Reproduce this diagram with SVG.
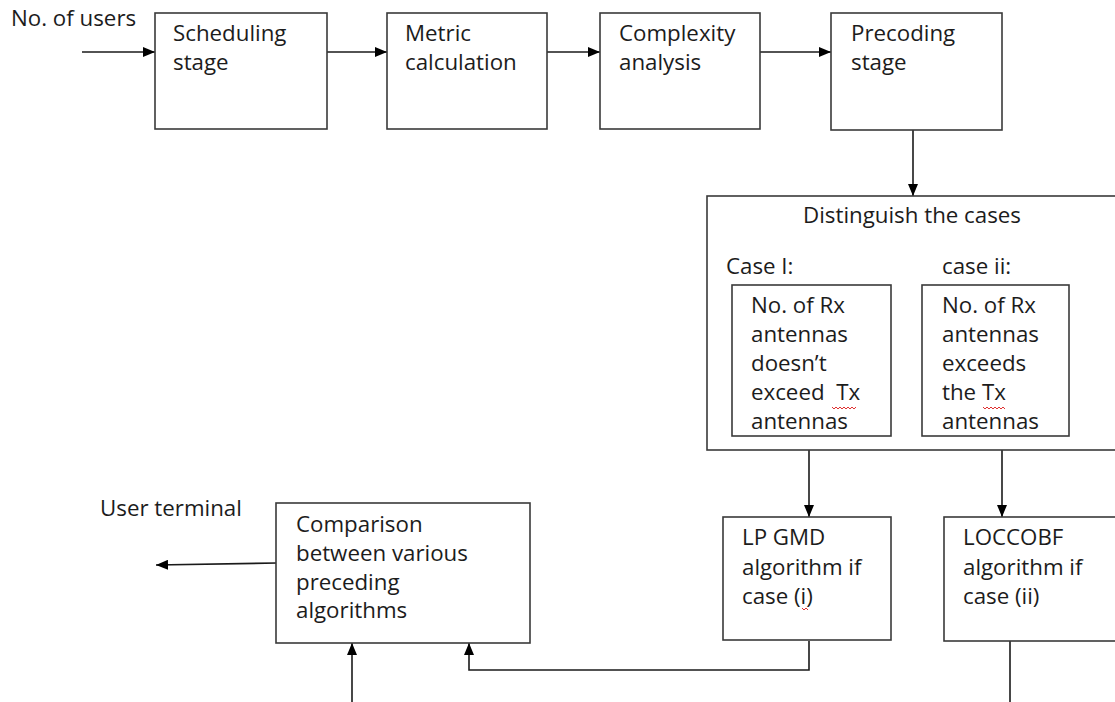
<svg xmlns="http://www.w3.org/2000/svg" width="1115" height="702" viewBox="0 0 1115 702">
<style>
.box{fill:#fff;stroke:#3a3a3a;stroke-width:1.6}
.t{font-family:"Open Sans","Liberation Sans",sans-serif;font-size:22.3px;fill:#1c1c1c;white-space:pre}
.c{fill:none;stroke:#1a1a1a;stroke-width:1.6}
.sq{fill:none;stroke:#e03030;stroke-width:1}
</style>
<defs>
<marker id="ah" viewBox="0 0 12 10" refX="12" refY="5" markerWidth="12" markerHeight="10" markerUnits="userSpaceOnUse" orient="auto">
<path d="M0,0 L12,5 L0,10 Z" fill="#000"/>
</marker>
</defs>
<rect width="1115" height="702" fill="#fff"/>
<g id="connectors">
<line class="c" x1="82" y1="52" x2="155" y2="52" marker-end="url(#ah)"/>
<line class="c" x1="327" y1="52" x2="387" y2="52" marker-end="url(#ah)"/>
<line class="c" x1="547" y1="52" x2="600" y2="52" marker-end="url(#ah)"/>
<line class="c" x1="760" y1="52" x2="831" y2="52" marker-end="url(#ah)"/>
<line class="c" x1="913" y1="130" x2="913" y2="196" marker-end="url(#ah)"/>
<line class="c" x1="809" y1="436" x2="809" y2="517" marker-end="url(#ah)"/>
<line class="c" x1="1002" y1="436" x2="1002" y2="517" marker-end="url(#ah)"/>
<polyline class="c" points="809,641 809,670 469,670 469,643" marker-end="url(#ah)"/>
<line class="c" x1="1010" y1="641" x2="1010" y2="702"/>
<line class="c" x1="352" y1="702" x2="352" y2="643" marker-end="url(#ah)"/>
<line class="c" x1="277" y1="563" x2="156" y2="565" marker-end="url(#ah)"/>
</g>
<g id="label-users"><text class="t" x="11" y="26">No. of users</text></g>
<g id="label-terminal"><text class="t" x="100" y="516">User terminal</text></g>
<g id="scheduling">
<rect class="box" x="155" y="13" width="172" height="116"/>
<text class="t" x="173" y="41">Scheduling</text>
<text class="t" x="173" y="70">stage</text>
</g>
<g id="metric">
<rect class="box" x="387" y="13" width="160" height="116"/>
<text class="t" x="405" y="41">Metric</text>
<text class="t" x="405" y="70">calculation</text>
</g>
<g id="complexity">
<rect class="box" x="600" y="13" width="160" height="116"/>
<text class="t" x="619" y="41">Complexity</text>
<text class="t" x="619" y="70">analysis</text>
</g>
<g id="precoding">
<rect class="box" x="831" y="13" width="171" height="117"/>
<text class="t" x="851" y="41">Precoding</text>
<text class="t" x="851" y="70">stage</text>
</g>
<g id="distinguish">
<rect class="box" x="707" y="196" width="420" height="254"/>
<text class="t" x="803" y="223">Distinguish the cases</text>
<text class="t" x="726" y="274">Case I:</text>
<text class="t" x="942" y="274">case ii:</text>
</g>
<g id="case1">
<rect class="box" x="732" y="285" width="159" height="151"/>
<text class="t" x="751" y="313">No. of Rx</text>
<text class="t" x="751" y="342">antennas</text>
<text class="t" x="751" y="371">doesn’t</text>
<text class="t" x="751" y="400">exceed  Tx</text>
<text class="t" x="751" y="429">antennas</text>
<path class="sq" d="M832,407 l2,2 l2,-2 l2,2 l2,-2 l2,2 l2,-2 l2,2 l2,-2 l2,2 l2,-2 l2,2 l2,-2"/>
</g>
<g id="case2">
<rect class="box" x="922" y="285" width="147" height="151"/>
<text class="t" x="942" y="313">No. of Rx</text>
<text class="t" x="942" y="342">antennas</text>
<text class="t" x="942" y="371">exceeds</text>
<text class="t" x="942" y="400">the Tx</text>
<text class="t" x="942" y="429">antennas</text>
<path class="sq" d="M983,407 l2,2 l2,-2 l2,2 l2,-2 l2,2 l2,-2 l2,2 l2,-2 l2,2 l2,-2 l2,2"/>
</g>
<g id="lpgmd">
<rect class="box" x="723" y="517" width="168" height="123"/>
<text class="t" x="742" y="545">LP GMD</text>
<text class="t" x="742" y="575">algorithm if</text>
<text class="t" x="742" y="604">case (i)</text>
<path class="sq" d="M802,608 l2,2 l2,-2 l2,2"/>
</g>
<g id="loccobf">
<rect class="box" x="944" y="517" width="183" height="124"/>
<text class="t" x="963" y="545">LOCCOBF</text>
<text class="t" x="963" y="575">algorithm if</text>
<text class="t" x="963" y="604">case (ii)</text>
</g>
<g id="comparison">
<rect class="box" x="276" y="503" width="254" height="140"/>
<text class="t" x="296" y="532">Comparison</text>
<text class="t" x="296" y="561">between various</text>
<text class="t" x="296" y="590">preceding</text>
<text class="t" x="296" y="618">algorithms</text>
</g>
</svg>
